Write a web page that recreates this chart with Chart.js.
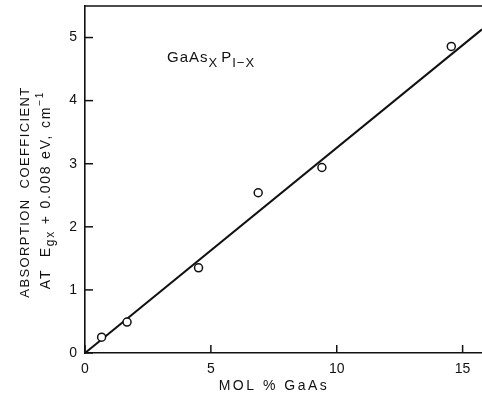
<!DOCTYPE html>
<html>
<head>
<meta charset="utf-8">
<script src="https://cdn.jsdelivr.net/npm/chart.js@4.4.1/dist/chart.umd.min.js"></script>
<style>
html,body{margin:0;padding:0;background:#fff;}
#wrap{width:482px;height:402px;position:relative;}
</style>
</head>
<body>
<div id="wrap"><canvas id="c" width="482" height="402"></canvas></div>
<script>
// Data
const molPctGaAs = [0.66, 1.67, 4.51, 6.88, 9.41, 14.55];
const absorption = [0.25, 0.49, 1.35, 2.54, 2.94, 4.86];
const fitX = [0, 15.77];
const fitY = [0, 5.13];
const xTicks = [0, 5, 10, 15];
const yTicks = [0, 1, 2, 3, 4, 5];
const xTitle = 'MOL % GaAs';
const yTitle1 = 'ABSORPTION  COEFFICIENT';

const FONT = '"Liberation Sans", Arial, sans-serif';

const decor = {
  id: 'decor',
  afterDraw(chart) {
    const ctx = chart.ctx;
    const ca = chart.chartArea;
    const xs = chart.scales.x, ys = chart.scales.y;
    ctx.save();
    ctx.strokeStyle = '#111';
    ctx.lineWidth = 1.6;
    // top border
    ctx.beginPath();
    ctx.moveTo(ca.left, ca.top);
    ctx.lineTo(ca.right, ca.top);
    ctx.stroke();
    // inward ticks
    ctx.lineWidth = 1.5;
    xTicks.forEach(v => {
      const p = xs.getPixelForValue(v);
      ctx.beginPath(); ctx.moveTo(p, ca.bottom); ctx.lineTo(p, ca.bottom - 8); ctx.stroke();
    });
    yTicks.forEach(v => {
      const p = ys.getPixelForValue(v);
      ctx.beginPath(); ctx.moveTo(ca.left, p); ctx.lineTo(ca.left + 8, p); ctx.stroke();
    });
    ctx.fillStyle = '#111';
    // x title
    ctx.font = '14px ' + FONT;
    ctx.letterSpacing = '2.5px';
    ctx.textAlign = 'center';
    ctx.textBaseline = 'middle';
    ctx.fillText(xTitle, 274, 386);
    // y title (rotated)
    ctx.save();
    ctx.translate(25, 192);
    ctx.rotate(-Math.PI / 2);
    ctx.font = '13px ' + FONT;
    ctx.letterSpacing = '1.4px';
    ctx.textAlign = 'center';
    ctx.fillText(yTitle1, 0, 0);
    ctx.restore();
    // second line with subscript/superscript
    ctx.save();
    ctx.translate(45, 190);
    ctx.rotate(-Math.PI / 2);
    ctx.textBaseline = 'alphabetic';
    ctx.textAlign = 'left';
    ctx.letterSpacing = '1.8px';
    const parts = [
      {t: 'AT  E', s: 14, dy: 0},
      {t: 'gx', s: 12, dy: 4},
      {t: ' + 0.008 eV, cm', s: 14, dy: 0},
      {t: '\u22121', s: 10, dy: -7}
    ];
    let total = 0;
    parts.forEach(p => { ctx.font = p.s + 'px ' + FONT; total += ctx.measureText(p.t).width; });
    let x = -total / 2;
    parts.forEach(p => {
      ctx.font = p.s + 'px ' + FONT;
      ctx.fillText(p.t, x, 5 + p.dy);
      x += ctx.measureText(p.t).width;
    });
    ctx.restore();
    // annotation GaAs_X P_1-X
    ctx.textAlign = 'left';
    ctx.textBaseline = 'alphabetic';
    ctx.letterSpacing = '1px';
    const ann = [
      {t: 'GaAs', s: 15, dy: 0, gap: 0},
      {t: 'X', s: 13, dy: 5, gap: 3},
      {t: 'P', s: 15, dy: 0, gap: 0},
      {t: 'I\u2212X', s: 13, dy: 5, gap: 0}
    ];
    let ax = 167;
    ann.forEach(p => {
      ctx.font = p.s + 'px ' + FONT;
      ctx.fillText(p.t, ax, 62 + p.dy);
      ax += ctx.measureText(p.t).width + p.gap;
    });
    ctx.restore();
  }
};

function noPad(s) {
  s.paddingTop = 0; s.paddingBottom = 0; s.paddingLeft = 0; s.paddingRight = 0;
}

new Chart(document.getElementById('c'), {
  type: 'scatter',
  data: {
    datasets: [
      {
        label: 'measured',
        data: molPctGaAs.map((x, i) => ({x: x, y: absorption[i]})),
        showLine: false,
        pointRadius: 4,
        pointStyle: 'circle',
        pointBackgroundColor: '#fff',
        pointBorderColor: '#111',
        pointBorderWidth: 1.5,
        order: 0
      },
      {
        label: 'fit',
        data: fitX.map((x, i) => ({x: x, y: fitY[i]})),
        showLine: true,
        borderColor: '#111',
        borderWidth: 2,
        pointRadius: 0,
        fill: false,
        order: 1
      }
    ]
  },
  options: {
    responsive: false,
    animation: false,
    events: [],
    layout: {autoPadding: false, padding: {top: 6, right: 0, left: 0, bottom: 0}},
    plugins: {legend: {display: false}, tooltip: {enabled: false}},
    scales: {
      x: {
        type: 'linear', min: 0, max: 15.77,
        afterFit(s) { s.height = 49; noPad(s); },
        afterBuildTicks(s) { s.ticks = xTicks.map(v => ({value: v})); },
        grid: {display: true, drawOnChartArea: false, drawTicks: false},
        border: {display: true, color: '#111', width: 1.6},
        ticks: {padding: 8, color: '#111', font: {family: FONT, size: 14}, maxRotation: 0}
      },
      y: {
        type: 'linear', min: 0, max: 5.5,
        afterFit(s) { s.width = 85; noPad(s); },
        afterBuildTicks(s) { s.ticks = yTicks.map(v => ({value: v})); },
        grid: {display: true, drawOnChartArea: false, drawTicks: false},
        border: {display: true, color: '#111', width: 1.6},
        ticks: {padding: 8, color: '#111', font: {family: FONT, size: 14}}
      }
    }
  },
  plugins: [decor]
});
</script>
</body>
</html>
